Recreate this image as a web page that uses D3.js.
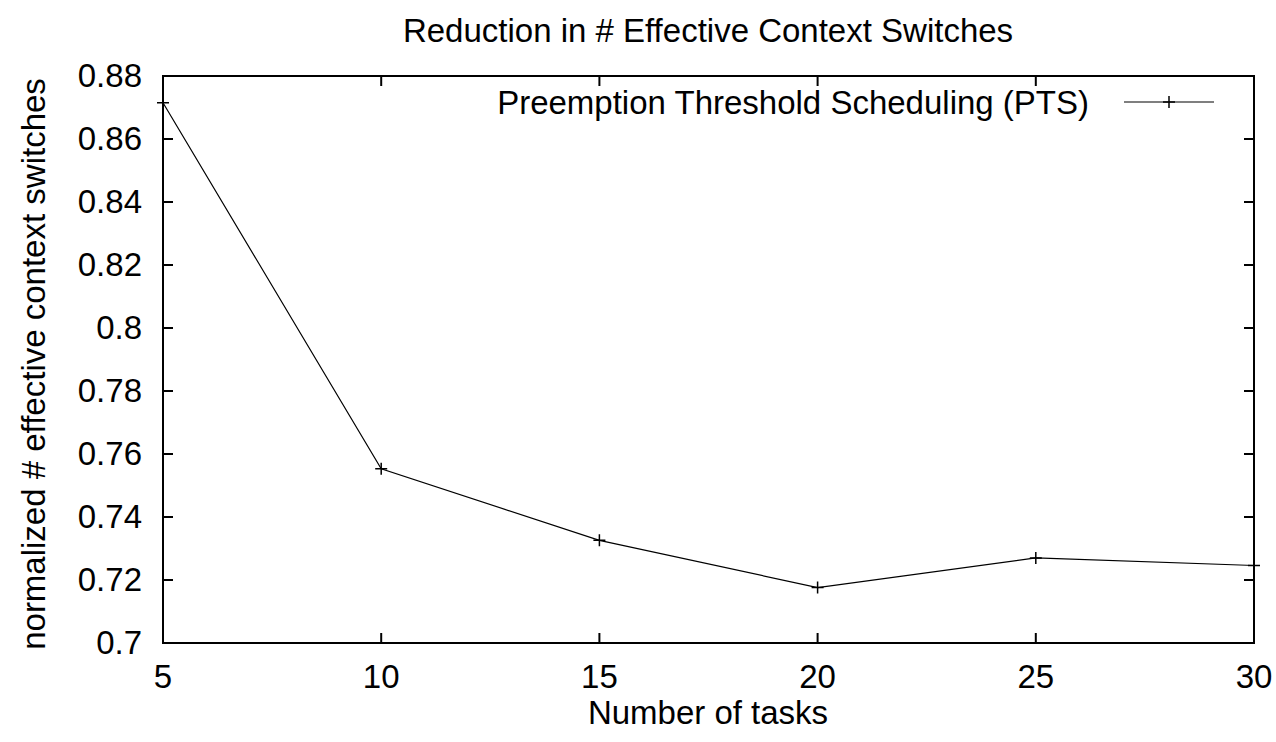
<!DOCTYPE html>
<html>
<head>
<meta charset="utf-8">
<script src="https://cdn.jsdelivr.net/npm/d3@7"></script>
<style>
body { margin: 0; background: #fff; }
text { font-family: "Liberation Sans", Arial, sans-serif; fill: #000; }
</style>
</head>
<body>
<svg width="1276" height="742"></svg>
<script>
// data
var tasks = [5, 10, 15, 20, 25, 30];
var ptsValues = [0.8715, 0.7553, 0.7326, 0.7176, 0.7270, 0.7246];
var xTicks = [5, 10, 15, 20, 25, 30];
var yTicks = [0.7, 0.72, 0.74, 0.76, 0.78, 0.8, 0.82, 0.84, 0.86, 0.88];
var seriesName = "Preemption Threshold Scheduling (PTS)";

var pL = 163, pR = 1254, pT = 76, pB = 643;
var fs = 33;

var svg = d3.select("svg");
var x = d3.scaleLinear().domain([5, 30]).range([pL, pR]);
var y = d3.scaleLinear().domain([0.7, 0.88]).range([pB, pT]);

// ticks (mirrored, pointing inward like gnuplot)
var tk = svg.append("g").attr("stroke", "#000").attr("stroke-width", 2);
yTicks.forEach(function(v) {
  tk.append("line").attr("x1", pL).attr("x2", pL + 10).attr("y1", y(v)).attr("y2", y(v));
  tk.append("line").attr("x1", pR).attr("x2", pR - 10).attr("y1", y(v)).attr("y2", y(v));
});
xTicks.forEach(function(v) {
  tk.append("line").attr("x1", x(v)).attr("x2", x(v)).attr("y1", pB).attr("y2", pB - 10);
  tk.append("line").attr("x1", x(v)).attr("x2", x(v)).attr("y1", pT).attr("y2", pT + 10);
});

svg.append("g").selectAll("text").data(yTicks).enter().append("text")
  .attr("x", 142).attr("y", function(d) { return y(d) + 11; })
  .attr("text-anchor", "end").attr("font-size", fs)
  .text(function(d) { return +d.toFixed(2); });

svg.append("g").selectAll("text").data(xTicks).enter().append("text")
  .attr("x", function(d) { return x(d); }).attr("y", 688)
  .attr("text-anchor", "middle").attr("font-size", fs)
  .text(function(d) { return d; });

// border
svg.append("rect").attr("x", pL).attr("y", pT)
  .attr("width", pR - pL).attr("height", pB - pT)
  .attr("fill", "none").attr("stroke", "#000").attr("stroke-width", 2);

// series
var line = d3.line().x(function(d, i) { return x(tasks[i]); }).y(function(d) { return y(d); });
svg.append("path").datum(ptsValues).attr("d", line)
  .attr("fill", "none").attr("stroke", "#000").attr("stroke-width", 1.2);

function plus(g, cx, cy) {
  g.append("path").attr("d", "M" + (cx - 6) + "," + cy + "H" + (cx + 6) + "M" + cx + "," + (cy - 6) + "V" + (cy + 6))
    .attr("stroke", "#000").attr("stroke-width", 1.5);
}
var mk = svg.append("g");
ptsValues.forEach(function(v, i) { plus(mk, x(tasks[i]), y(v)); });

// legend
var lg = svg.append("g");
lg.append("text").attr("x", 1089).attr("y", 114).attr("text-anchor", "end")
  .attr("font-size", fs).text(seriesName);
lg.append("line").attr("x1", 1124).attr("x2", 1214).attr("y1", 102).attr("y2", 102)
  .attr("stroke", "#000").attr("stroke-width", 1.2);
plus(lg, 1169, 102);

// titles
svg.append("text").attr("x", 708).attr("y", 42).attr("text-anchor", "middle")
  .attr("font-size", fs).text("Reduction in # Effective Context Switches");
svg.append("text").attr("x", 708).attr("y", 724).attr("text-anchor", "middle")
  .attr("font-size", fs).text("Number of tasks");
svg.append("text").attr("transform", "translate(45,364) rotate(-90)")
  .attr("text-anchor", "middle").attr("font-size", fs)
  .text("normalized # effective context switches");
</script>
</body>
</html>
